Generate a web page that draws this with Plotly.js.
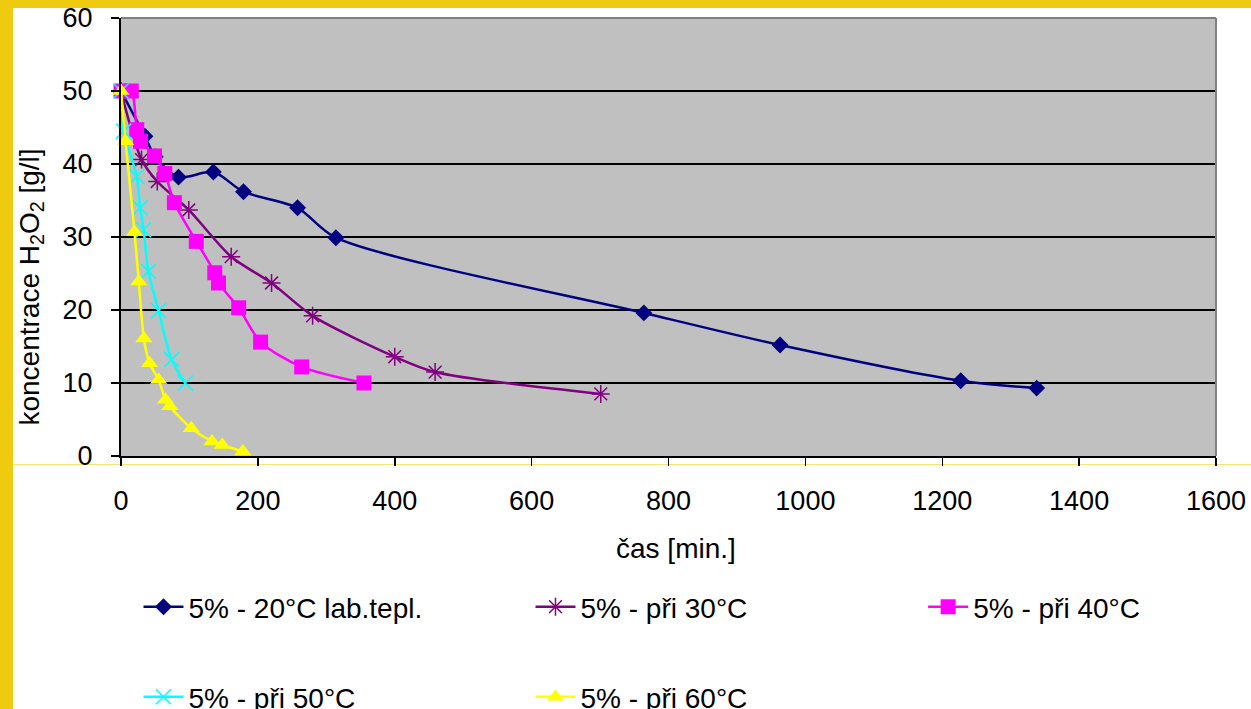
<!DOCTYPE html>
<html>
<head>
<meta charset="utf-8">
<script src="https://cdn.plot.ly/plotly-3.0.1.min.js"></script>
<style>
  html, body { margin: 0; padding: 0; background: #ffffff; width: 1251px; height: 709px; overflow: hidden; }
  #hline { position: absolute; left: 13px; top: 464px; width: 1238px; height: 1px; background: #F6E27A; z-index: 0; }
  #chart { position: absolute; left: 0; top: 0; width: 1251px; height: 709px; z-index: 1; }
  #sleft { position: absolute; left: 0; top: 0; width: 13px; height: 709px; background: #EFCB10; z-index: 2; }
  #stop { position: absolute; left: 0; top: 0; width: 1251px; height: 8px; background: #EFCB10; z-index: 2; }
</style>
</head>
<body>
<div id="hline"></div>
<div id="chart"></div>
<div id="sleft"></div>
<div id="stop"></div>
<script>
// ---- data ----
const seriesNames = ["5% - 20°C lab.tepl.", "5% - při 30°C", "5% - při 40°C", "5% - při 50°C", "5% - při 60°C"];

const t20 = [0, 35, 50, 84, 135, 179, 258, 314, 764, 963, 1227, 1338];
const c20 = [50, 43.8, 41.0, 38.2, 38.9, 36.2, 34.0, 29.9, 19.6, 15.2, 10.3, 9.3];

const t30 = [0, 30, 53, 99, 161, 220, 280, 400, 459, 701];
const c30 = [50, 40.6, 37.6, 33.7, 27.3, 23.7, 19.2, 13.6, 11.5, 8.5];

const t40 = [0, 15, 23, 28.5, 49, 64, 78, 110, 137, 142.5, 172, 204, 264, 355];
const c40 = [50, 50, 44.7, 43.1, 41.1, 38.7, 34.7, 29.4, 25.1, 23.7, 20.3, 15.6, 12.2, 10.0];

const t50 = [0, 4, 23, 28, 33, 40, 55, 74, 94];
const c50 = [50, 44.5, 38.3, 34.0, 31.0, 25.3, 19.9, 13.2, 10.0];

const t60 = [0, 6.6, 19.7, 26, 33.4, 41.7, 55, 65, 71.4, 102.6, 133, 148, 178];
const c60 = [50, 43.1, 30.7, 23.9, 16.1, 12.7, 10.4, 7.7, 6.8, 3.8, 2.0, 1.5, 0.6];

const xTicks = [0, 200, 400, 600, 800, 1000, 1200, 1400, 1600];
const yTicks = [0, 10, 20, 30, 40, 50, 60];

// ---- styling ----
const FONT = "Liberation Sans, Arial, sans-serif";
function tr(x, y, name, color, symbol, msize, mline, legend) {
  return {
    x: x, y: y, name: name, type: "scatter", mode: "lines+markers",
    cliponaxis: false, legend: legend,
    line: { color: color, width: 2.5, shape: "spline", smoothing: 0.8 },
    marker: { color: color, symbol: symbol, size: msize, line: { color: color, width: mline } }
  };
}
const traces = [
  tr(t20, c20, seriesNames[0], "#000080", "diamond", 13, 0, "legend"),
  tr(t30, c30, seriesNames[1], "#800080", "asterisk-open", 15, 1.5, "legend"),
  tr(t40, c40, seriesNames[2], "#FF00FF", "square", 15, 0, "legend3"),
  tr(t50, c50, seriesNames[3], "#00FFFF", "x-thin-open", 15, 1.5, "legend2"),
  tr(t60, c60, seriesNames[4], "#FFFF00", "triangle-up", 15, 0, "legend2")
];

const PL = 120.5, PT = 18, PW = 1095.5, PH = 438;
const px = v => (v - PL) / PW;          // page x -> paper x
const py = v => (PT + PH - v) / PH;     // page y -> paper y

function legendAt(xp, yp) {
  return {
    orientation: "h", xanchor: "left", yanchor: "middle", x: px(xp), y: py(yp),
    bgcolor: "rgba(0,0,0,0)", entrywidth: 337, entrywidthmode: "pixels",
    font: { family: FONT, size: 28, color: "#000" }, itemwidth: 40
  };
}

const layout = {
  width: 1251, height: 709,
  margin: { l: PL, r: 1251 - PL - PW, t: PT, b: 709 - PT - PH, autoexpand: false },
  paper_bgcolor: "rgba(0,0,0,0)",
  plot_bgcolor: "#C0C0C0",
  font: { family: FONT, size: 27, color: "#000000" },
  showlegend: true,
  xaxis: {
    range: [0, 1600], tickvals: xTicks, ticktext: xTicks.map(String),
    showgrid: false, zeroline: false,
    showline: true, linecolor: "#000000", linewidth: 2,
    ticks: "outside", ticklen: 8, tickwidth: 1.5, tickcolor: "#000000",
    ticklabelstandoff: 12,
    tickfont: { family: FONT, size: 27, color: "#000000" }
  },
  yaxis: {
    range: [0, 60], tickvals: yTicks, ticktext: yTicks.map(String),
    showgrid: true, gridcolor: "#000000", gridwidth: 1.3, zeroline: false,
    showline: true, linecolor: "#000000", linewidth: 2,
    ticks: "outside", ticklen: 8, tickwidth: 1.5, tickcolor: "#000000",
    ticklabelstandoff: 13,
    tickfont: { family: FONT, size: 27, color: "#000000" }
  },
  shapes: [
    { type: "line", xref: "paper", yref: "paper", x0: 0, x1: 1, y0: 1, y1: 1, line: { color: "#808080", width: 2 }, layer: "above" },
    { type: "line", xref: "paper", yref: "paper", x0: 1, x1: 1, y0: 0, y1: 1, line: { color: "#808080", width: 2 }, layer: "above" }
  ],
  annotations: [
    { text: "čas [min.]", xref: "paper", yref: "paper", x: px(676), y: py(548),
      xanchor: "center", yanchor: "middle", showarrow: false, font: { family: FONT, size: 28, color: "#000" } },
    { text: "koncentrace H<sub>2</sub>O<sub>2</sub> [g/l]", xref: "paper", yref: "paper",
      x: px(30), y: py(287), textangle: -90,
      xanchor: "center", yanchor: "middle", showarrow: false, font: { family: FONT, size: 28, color: "#000" } }
  ],
  legend: legendAt(138, 607),
  legend3: legendAt(923, 607),
  legend2: legendAt(138, 697)
};

Plotly.newPlot("chart", traces, layout, { displayModeBar: false, staticPlot: true });
</script>
</body>
</html>
